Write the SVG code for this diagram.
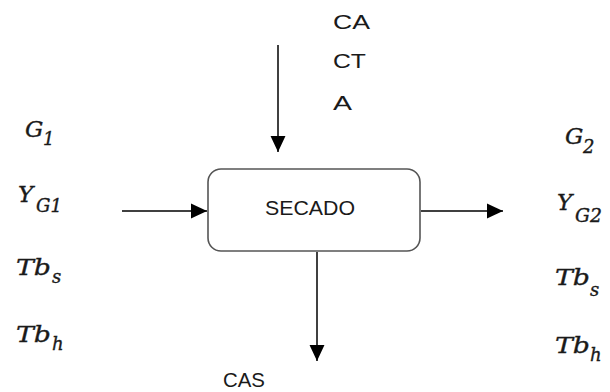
<svg xmlns="http://www.w3.org/2000/svg" width="610" height="392" viewBox="0 0 610 392">
<style>
.lbl{font-family:"Liberation Sans",Arial,sans-serif;font-size:21px;fill:#1a1a1a}
.m{font-family:"DejaVu Serif","Liberation Serif",serif;font-style:italic;font-size:23px;fill:#1a1a1a;stroke:#1a1a1a;stroke-width:0.35}
.sub{font-size:18px}
.conn{stroke:#000;stroke-width:1.5;fill:none;marker-end:url(#ah)}
</style>
<defs>
<marker id="ah" markerWidth="16" markerHeight="16" refX="15" refY="7" orient="auto" markerUnits="userSpaceOnUse" viewBox="0 0 15 14">
<path d="M0,0 L15,7 L0,14 z" fill="#000"/>
</marker>
</defs>
<rect width="610" height="392" fill="#fff"/>
<g id="connectors">
<line class="conn" x1="278" y1="45" x2="278" y2="152"/>
<line class="conn" x1="122" y1="211" x2="207" y2="211"/>
<line class="conn" x1="421" y1="211" x2="503" y2="211"/>
<line class="conn" x1="317" y1="252" x2="317" y2="361"/>
</g>
<g id="secado">
<rect x="208" y="169" width="212" height="82" rx="13" fill="#fff" stroke="#555" stroke-width="1.6"/>
<text class="lbl" x="265" y="215" textLength="90" lengthAdjust="spacingAndGlyphs">SECADO</text>
</g>
<g id="top-labels">
<text class="lbl" x="333" y="29" textLength="37" lengthAdjust="spacingAndGlyphs">CA</text>
<text class="lbl" x="333" y="68" textLength="33" lengthAdjust="spacingAndGlyphs">CT</text>
<text class="lbl" x="333" y="110" textLength="19" lengthAdjust="spacingAndGlyphs">A</text>
</g>
<g id="bottom-label">
<text class="lbl" x="223" y="387" textLength="42" lengthAdjust="spacingAndGlyphs">CAS</text>
</g>
<g id="inputs">
<text class="m" x="25" y="137">G</text><text class="m sub" x="43" y="145">1</text>
<text class="m" x="18" y="202">Y</text><text class="m sub" x="36" y="212" textLength="26" lengthAdjust="spacingAndGlyphs">G1</text>
<text class="m" x="16" y="275" textLength="35" lengthAdjust="spacingAndGlyphs">Tb</text><text class="m sub" x="52" y="283">s</text>
<text class="m" x="16" y="342" textLength="35" lengthAdjust="spacingAndGlyphs">Tb</text><text class="m sub" x="52" y="350">h</text>
</g>
<g id="outputs">
<text class="m" x="565" y="144">G</text><text class="m sub" x="583" y="153">2</text>
<text class="m" x="557" y="210">Y</text><text class="m sub" x="575" y="222" textLength="27" lengthAdjust="spacingAndGlyphs">G2</text>
<text class="m" x="555" y="285" textLength="35" lengthAdjust="spacingAndGlyphs">Tb</text><text class="m sub" x="590" y="296">s</text>
<text class="m" x="555" y="353" textLength="35" lengthAdjust="spacingAndGlyphs">Tb</text><text class="m sub" x="590" y="361">h</text>
</g>
</svg>
